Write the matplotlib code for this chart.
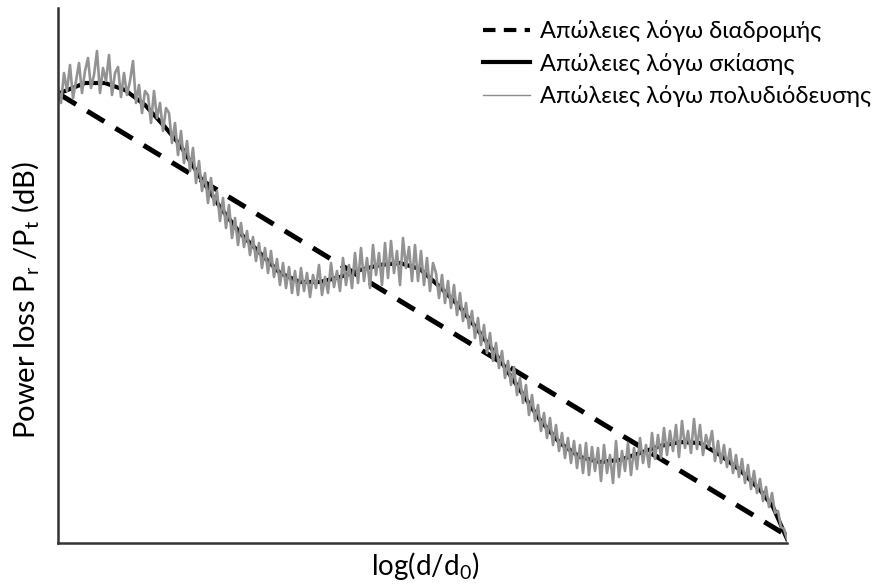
import numpy as np
import matplotlib.pyplot as plt
from matplotlib.lines import Line2D

plt.rcParams['font.family'] = ['Lato', 'DejaVu Sans']
plt.rcParams['mathtext.fontset'] = 'custom'
plt.rcParams['mathtext.rm'] = 'Lato'

# path loss: straight line in log-distance
path_x = [1, 728]
path_y = [449, 8]

# shadowing curve
shadow_x = [0, 2, 27, 47, 67, 87, 107, 122, 142, 162, 182, 202, 222, 242, 262,
            282, 302, 322, 342, 362, 382, 402, 422, 442, 462, 482, 502, 522,
            542, 562, 582, 602, 622, 642, 662, 682, 702, 715, 729]
shadow_y = [448, 450, 460, 460, 453, 438, 416, 398, 366, 336, 310, 290, 270,
            261, 261, 266, 273, 278, 280, 274, 256, 236, 210, 183, 153, 123,
            100, 86, 81, 83, 90, 97, 101, 100, 88, 73, 53, 36, 4]

# multipath fading, sampled every 3 units
multi_y = [455, 440, 470, 452, 478, 445, 462, 480, 450, 472,
           485, 455, 468, 492, 450, 475, 462, 488, 448, 470,
           476, 446, 470, 448, 462, 482, 440, 458, 430, 452,
           448, 420, 452, 425, 440, 412, 435, 430, 400, 420,
           388, 412, 380, 402, 372, 395, 360, 382, 352, 370,
           340, 365, 338, 352, 322, 345, 315, 338, 305, 325,
           298, 320, 296, 312, 288, 306, 282, 300, 275, 295,
           270, 292, 266, 284, 258, 280, 255, 276, 250, 272,
           248, 275, 252, 270, 246, 268, 255, 278, 248, 266,
           250, 280, 256, 272, 252, 285, 258, 278, 255, 290,
           260, 295, 262, 285, 255, 298, 268, 290, 258, 300,
           265, 302, 270, 292, 258, 305, 275, 296, 262, 298,
           262, 292, 258, 285, 252, 280, 270, 245, 268, 240,
           262, 235, 258, 228, 250, 222, 240, 215, 232, 205,
           225, 198, 218, 190, 210, 182, 200, 175, 192, 165,
           182, 158, 176, 148, 165, 140, 158, 128, 148, 122,
           138, 112, 130, 105, 125, 98, 118, 92, 110, 85,
           105, 80, 102, 75, 98, 70, 100, 68, 96, 72,
           95, 62, 98, 70, 88, 60, 102, 66, 92, 72,
           100, 68, 95, 74, 105, 80, 98, 76, 110, 84,
           108, 85, 115, 88, 112, 92, 118, 86, 122, 95,
           112, 90, 124, 94, 118, 88, 108, 96, 112, 82,
           102, 80, 98, 76, 94, 70, 88, 66, 84, 60,
           78, 54, 72, 50, 64, 42, 56, 36, 50, 30,
           32, 16, 14, 4]
multi_x = np.arange(len(multi_y)) * 3

fig = plt.figure(figsize=(8.84, 5.85), dpi=100)
ax = fig.add_axes([58 / 884, 42 / 585, 729 / 884, 535 / 585])

ax.plot(path_x, path_y, color='black', lw=3.6, dashes=(4, 2.6))
ax.plot(shadow_x, shadow_y, color='black', lw=3.0)
ax.plot(multi_x, multi_y, color='#939393', lw=1.9)

ax.set_xlim(0, 729)
ax.set_ylim(0, 535)
ax.set_xticks([])
ax.set_yticks([])
for side in ['top', 'right']:
    ax.spines[side].set_visible(False)
for side in ['left', 'bottom']:
    ax.spines[side].set_linewidth(1.8)
    ax.spines[side].set_color('#333333')

# axis titles
fig.text(425 / 884, 1 - 566 / 585, 'log(d/d$_\\mathregular{0}$)',
         fontsize=20, ha='center', va='center')
fig.text(26 / 884, 1 - 300 / 585,
         'Power loss P$_\\mathregular{r}$ /P$_\\mathregular{t}$ (dB)',
         fontsize=21, rotation=90, ha='center', va='center')

handles = [
    Line2D([], [], color='black', lw=3.0, dashes=(3, 2)),
    Line2D([], [], color='black', lw=3.0),
    Line2D([], [], color='#8c8c8c', lw=1.0),
]
labels = ['Απώλειες λόγω διαδρομής',
          'Απώλειες λόγω σκίασης',
          'Απώλειες λόγω πολυδιόδευσης']
fig.legend(handles, labels, loc='upper left',
           bbox_to_anchor=(483 / 884, 1 - 20 / 585),
           frameon=False, fontsize=17, handlelength=2.0, handletextpad=0.4,
           borderpad=0, borderaxespad=0, labelspacing=0.45)

fig.savefig('out.png', dpi=100)
